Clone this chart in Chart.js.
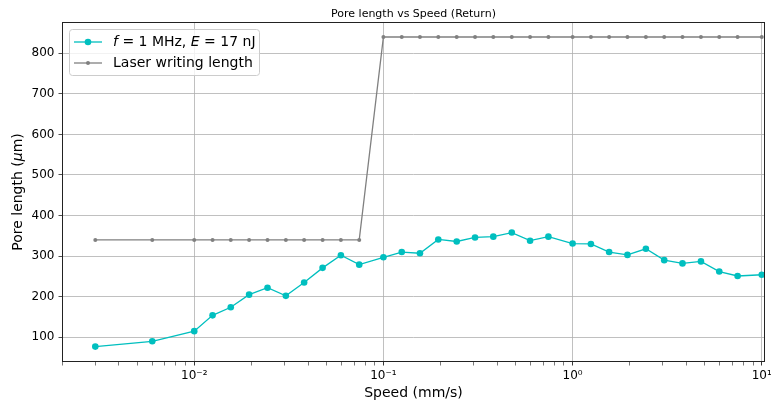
<!DOCTYPE html>
<html>
<head>
<meta charset="utf-8">
<script src="https://cdn.jsdelivr.net/npm/chart.js@4.4.1/dist/chart.umd.min.js"></script>
<style>
    html, body { margin: 0; padding: 0; background: #fff; }
</style>
</head>
<body>
<canvas id="pore_chart" width="771" height="403"></canvas>
<script>
// speeds in mm/s (log axis)
var speedValues = [0.003, 0.006, 0.01, 0.0125, 0.0156, 0.0195, 0.0244, 0.0305, 0.0381, 0.0477, 0.0596, 0.0745,
    0.1, 0.125, 0.156, 0.195, 0.244, 0.305, 0.381, 0.477, 0.596, 0.745,
    1, 1.25, 1.56, 1.95, 2.44, 3.05, 3.81, 4.77, 5.96, 7.45, 10];
var poreLength = [77, 90, 115, 154, 174, 205, 222, 202, 235, 271, 302, 279,
    297, 310, 307, 341, 336, 346, 348, 358, 338, 348,
    331, 330, 310, 303, 318, 290, 282, 287, 262, 251, 254];
var writingLength = [340, 340, 340, 340, 340, 340, 340, 340, 340, 340, 340, 340,
    840, 840, 840, 840, 840, 840, 840, 840, 840, 840,
    840, 840, 840, 840, 840, 840, 840, 840, 840, 840, 840];

var chartTitle = "Pore length vs Speed (Return)";
var xTitle = "Speed (mm/s)";
var yTitle = [["Pore length (", false], ["μ", true], ["m)", false]];
var legendLabels = [
    [["f", true], [" = 1 MHz, ", false], ["E", true], [" = 17 nJ", false]],
    [["Laser writing length", false]]
];
var seriesColors = ["#00bfbf", "#808080"];

var FONT = '"DejaVu Sans", sans-serif';

function toPoints(ys) {
    return speedValues.map(function(s, i) { return { x: s, y: ys[i] }; });
}

function isDecade(v) {
    var e = Math.log10(v);
    return Math.abs(e - Math.round(e)) < 1e-9;
}

function superscript(n) {
    var map = { "-": "⁻", "0": "⁰", "1": "¹", "2": "²", "3": "³", "4": "⁴", "5": "⁵", "6": "⁶", "7": "⁷", "8": "⁸", "9": "⁹" };
    return String(n).split("").map(function(c) { return map[c]; }).join("");
}

// draws text made of normal / italic pieces, starting at x
function drawPieces(ctx, pieces, x, y, size) {
    pieces.forEach(function(p) {
        ctx.font = (p[1] ? "italic " : "") + size + "px " + FONT;
        ctx.fillText(p[0], x, y);
        x += ctx.measureText(p[0]).width;
    });
}

function piecesWidth(ctx, pieces, size) {
    var w = 0;
    pieces.forEach(function(p) {
        ctx.font = (p[1] ? "italic " : "") + size + "px " + FONT;
        w += ctx.measureText(p[0]).width;
    });
    return w;
}

var decorations = {
    id: "decorations",
    afterDraw: function(chart) {
        var ctx = chart.ctx;
        var area = chart.chartArea;
        var cx = (area.left + area.right) / 2;
        ctx.save();

        // axes frame
        ctx.strokeStyle = "#222";
        ctx.lineWidth = 1;
        ctx.strokeRect(Math.round(area.left) + 0.5, Math.round(area.top) + 0.5,
            Math.round(area.right - area.left) - 1, Math.round(area.bottom - area.top) - 1);

        ctx.fillStyle = "#000";
        ctx.textBaseline = "alphabetic";

        // title
        ctx.textAlign = "center";
        ctx.font = "11px " + FONT;
        ctx.fillText(chartTitle, cx, 16.5);

        // x label
        ctx.font = "14px " + FONT;
        ctx.textBaseline = "middle";
        ctx.fillText(xTitle, cx, 393);

        // y label (rotated, with italic mu)
        ctx.save();
        ctx.translate(18.5, (area.top + area.bottom) / 2);
        ctx.rotate(-Math.PI / 2);
        ctx.textAlign = "left";
        var w = piecesWidth(ctx, yTitle, 14);
        drawPieces(ctx, yTitle, -w / 2, 0, 14);
        ctx.restore();

        // legend
        ctx.fillStyle = "rgba(255,255,255,0.8)";
        ctx.strokeStyle = "#cccccc";
        ctx.beginPath();
        ctx.roundRect(69.5, 29.5, 190, 46, 3);
        ctx.fill();
        ctx.stroke();
        ctx.textAlign = "left";
        ctx.textBaseline = "middle";
        chart.data.datasets.forEach(function(ds, i) {
            var y = 42 + i * 21;
            ctx.strokeStyle = ds.borderColor;
            ctx.lineWidth = ds.borderWidth;
            ctx.beginPath();
            ctx.moveTo(74, y);
            ctx.lineTo(102, y);
            ctx.stroke();
            ctx.fillStyle = ds.pointBackgroundColor;
            ctx.beginPath();
            ctx.arc(88, y, ds.pointRadius, 0, Math.PI * 2);
            ctx.fill();
            ctx.fillStyle = "#000";
            drawPieces(ctx, legendLabels[i], 113, y, 14);
        });
        ctx.restore();
    }
};

new Chart("pore_chart", {
    type: "line",
    data: {
        datasets: [{
                data: toPoints(poreLength),
                borderColor: seriesColors[0],
                backgroundColor: seriesColors[0],
                pointBackgroundColor: seriesColors[0],
                pointBorderWidth: 0,
                pointRadius: 3.3,
                borderWidth: 1.3,
                fill: false,
            },
            {
                data: toPoints(writingLength),
                borderColor: seriesColors[1],
                backgroundColor: seriesColors[1],
                pointBackgroundColor: seriesColors[1],
                pointBorderWidth: 0,
                pointRadius: 2,
                borderWidth: 1.3,
                fill: false,
            },
        ]
    },
    options: {
        responsive: false,
        animation: false,
        devicePixelRatio: 1,
        layout: {
            padding: { top: 22, right: 6, left: 0, bottom: 0 }
        },
        plugins: {
            legend: { display: false },
            tooltip: { enabled: false }
        },
        scales: {
            x: {
                type: "logarithmic",
                min: 0.002,
                max: 10.4,
                afterBuildTicks: function(scale) {
                    scale.ticks = scale.ticks.filter(function(t) {
                        var m = t.value / Math.pow(10, Math.floor(Math.log10(t.value) + 1e-9));
                        return Math.abs(m - Math.round(m)) < 1e-6;
                    });
                },
                afterFit: function(scale) {
                    scale.height = 41;
                    scale.paddingLeft = 0;
                    scale.paddingRight = 0;
                },
                border: { display: false },
                grid: {
                    color: function(c) { return c.tick && isDecade(c.tick.value) ? "#b0b0b0" : "rgba(0,0,0,0)"; },
                    lineWidth: 0.8,
                    tickColor: "#222",
                    tickLength: 3.5,
                    tickWidth: function(c) { return c.tick && isDecade(c.tick.value) ? 0.9 : 0.6; }
                },
                ticks: {
                    autoSkip: false,
                    maxRotation: 0,
                    padding: 3,
                    color: "#000",
                    font: { family: "DejaVu Sans", size: 12 },
                    callback: function(v) {
                        return isDecade(v) ? "10" + superscript(Math.round(Math.log10(v))) : "";
                    }
                }
            },
            y: {
                min: 39,
                max: 877,
                afterBuildTicks: function(scale) {
                    scale.ticks = scale.ticks.filter(function(t) { return t.value % 100 === 0; });
                },
                afterFit: function(scale) {
                    scale.width = 62;
                    scale.paddingTop = 0;
                    scale.paddingBottom = 0;
                },
                border: { display: false },
                grid: {
                    color: "#b0b0b0",
                    lineWidth: 0.8,
                    tickColor: "#222",
                    tickLength: 3.5
                },
                ticks: {
                    stepSize: 100,
                    padding: 4,
                    color: "#000",
                    font: { family: "DejaVu Sans", size: 12 }
                }
            }
        }
    },
    plugins: [decorations]
});
</script>
</body>
</html>
